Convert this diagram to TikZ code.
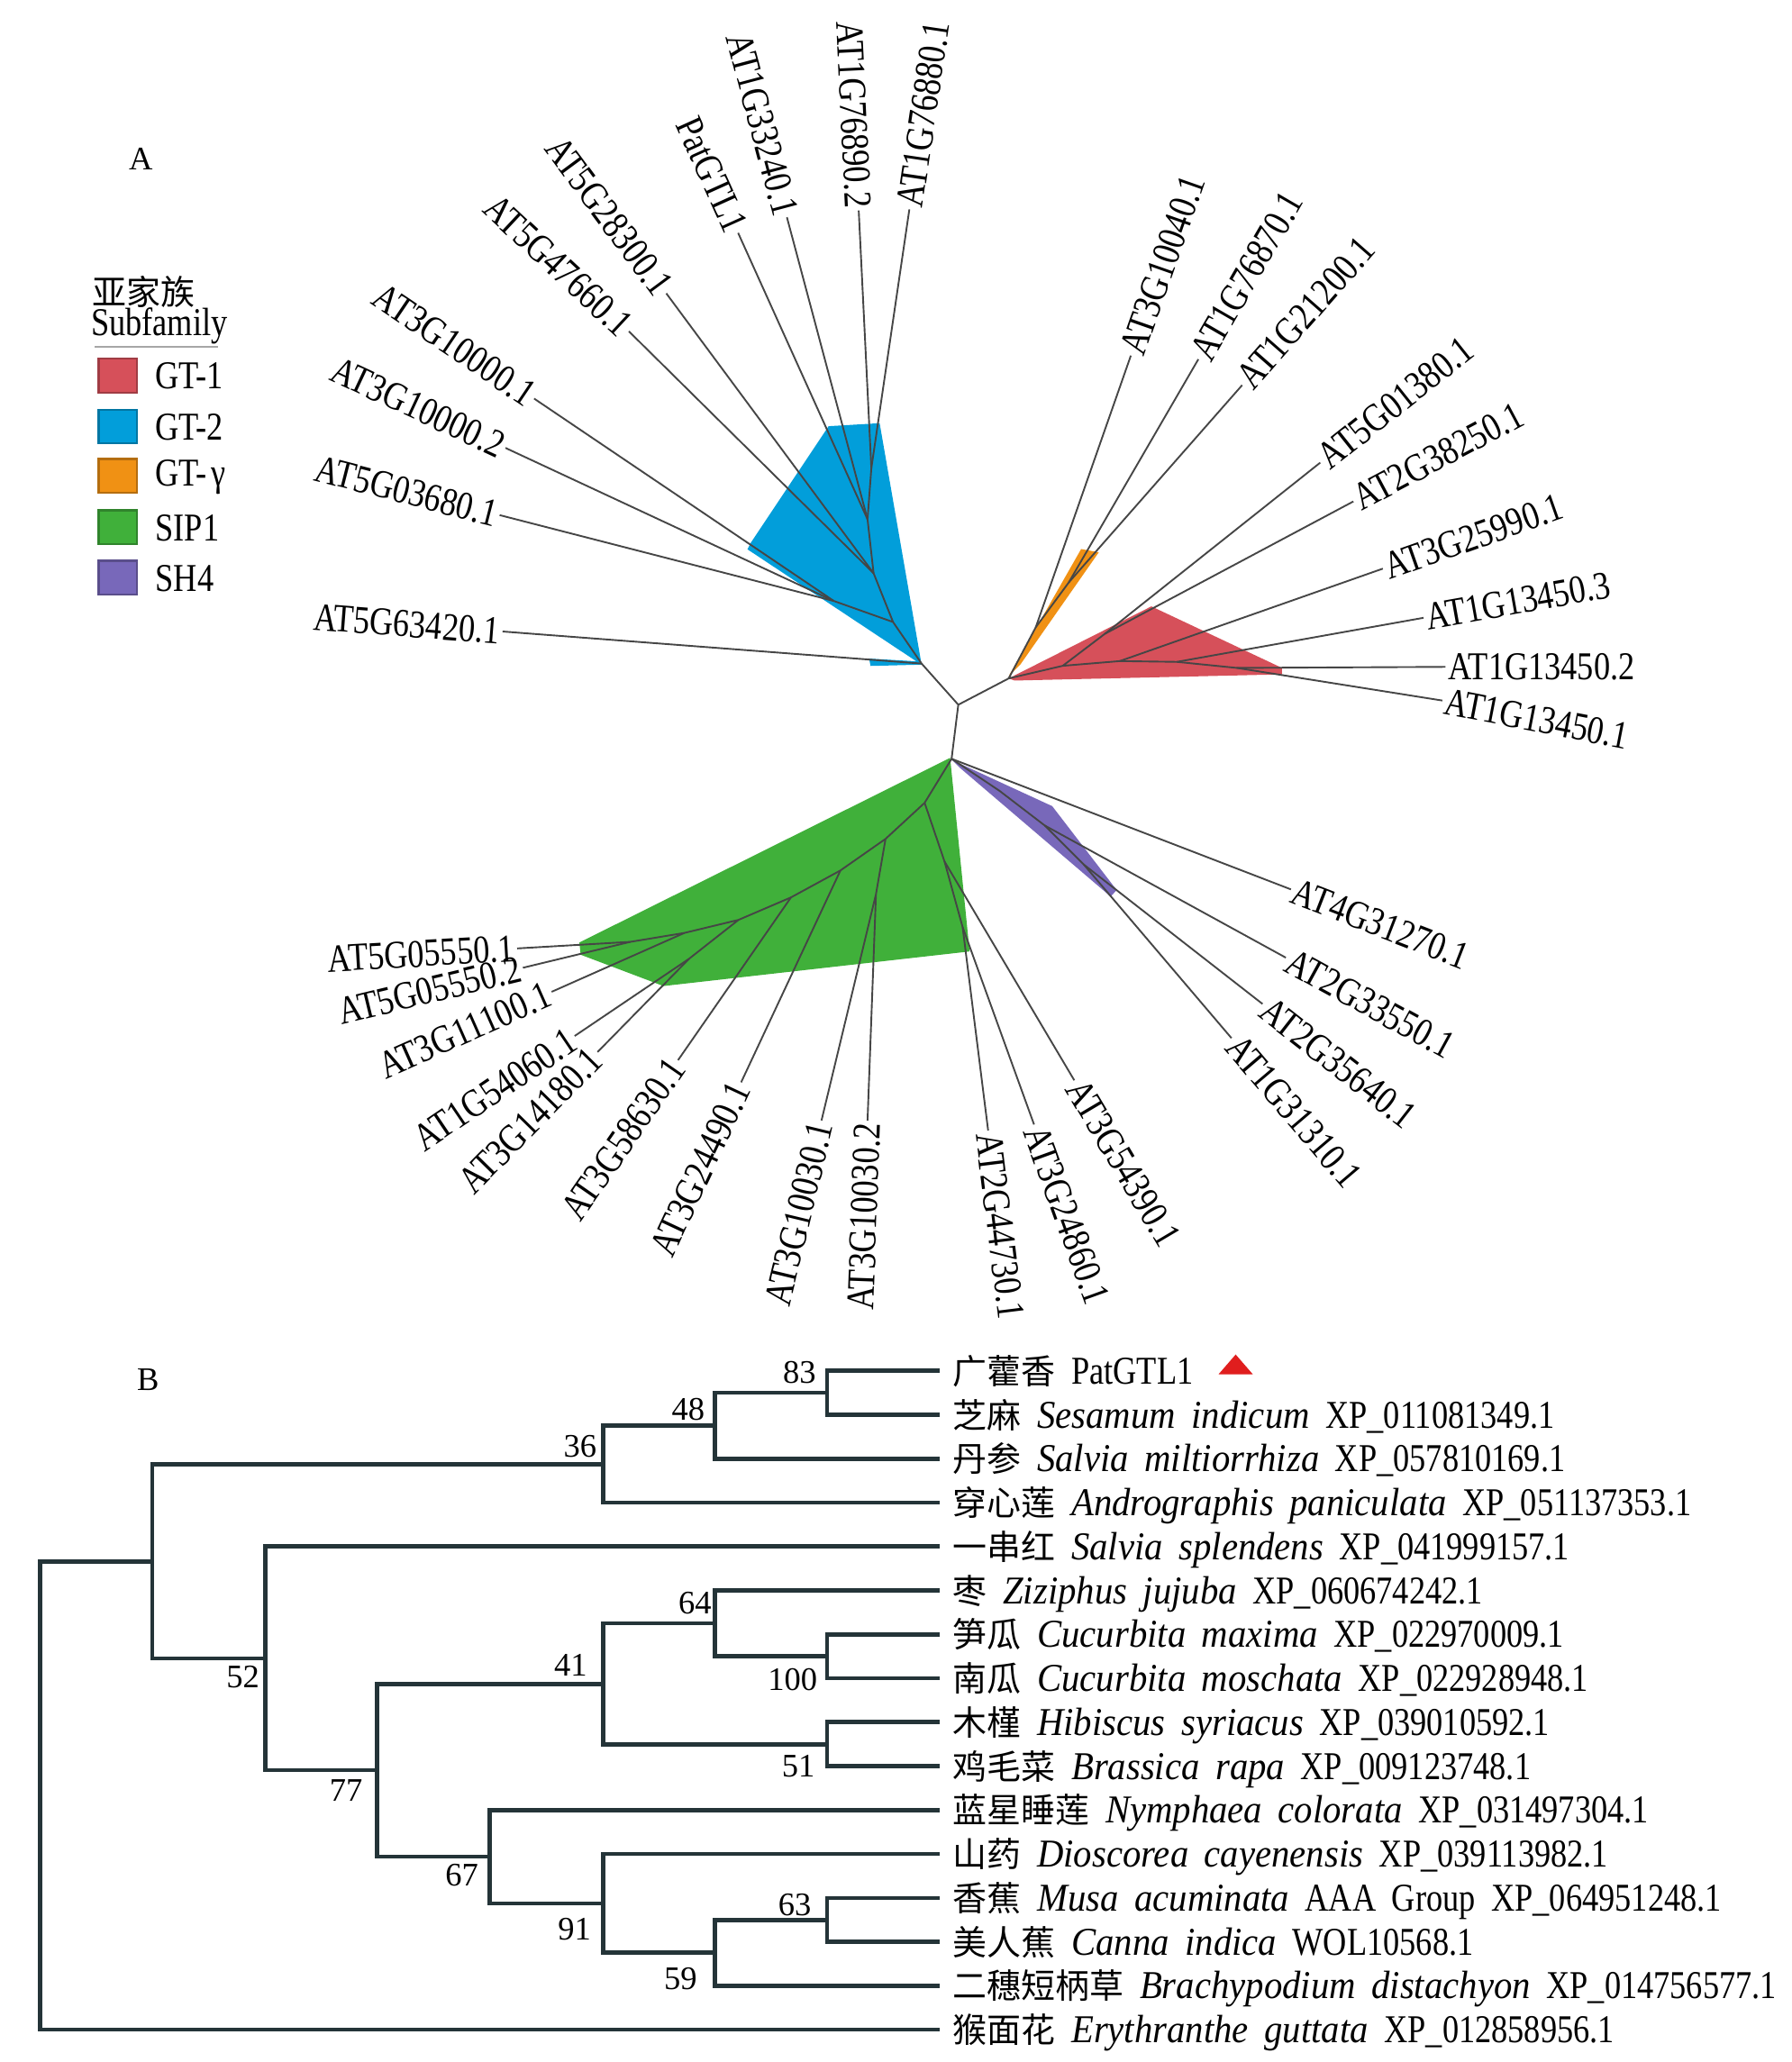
\documentclass[tikz,border=0pt]{standalone}
\usepackage{fontspec}
\setmainfont{Liberation Serif}[FakeStretch=0.83]
\newfontfamily\itf{Liberation Serif}[FakeStretch=0.93]
\newfontfamily\numf{Liberation Serif}
\newfontfamily\cjk{Noto Sans CJK SC}
\definecolor{cRed}{RGB}{214,80,90}
\definecolor{cBlue}{RGB}{2,158,218}
\definecolor{cOrange}{RGB}{240,145,20}
\definecolor{cGreen}{RGB}{64,176,58}
\definecolor{cPurple}{RGB}{120,104,186}
\definecolor{lineA}{RGB}{70,70,70}
\definecolor{lineB}{RGB}{36,52,56}
\definecolor{triRed}{RGB}{224,30,30}
\newcommand\lbl{\fontsize{30}{32}\selectfont}
\newcommand\gap{\hspace{12pt}}
\newcommand\cn[1]{{\cjk\fontsize{26}{28}\selectfont #1}}
\newcommand\spn[1]{{\itf\itshape #1}}
\tikzset{
  br/.style={draw=lineA, line width=1.3pt},
  labL/.style={anchor=east, inner sep=2pt, font=\lbl},
  labR/.style={anchor=west, inner sep=2pt, font=\lbl},
  tb/.style={draw=lineB, line width=3.2pt, line cap=rect, line join=miter},
  bs/.style={inner sep=0pt, font=\numf\fontsize{25}{26}\selectfont},
  leafB/.style={anchor=base west, inner sep=0pt, font=\lbl},
  sw/.style={line width=1.5pt},
  panel/.style={inner sep=0pt, font=\numf\fontsize{25}{26}\selectfont},
}
\begin{document}
\begin{tikzpicture}[x=1pt,y=-1pt]
\useasboundingbox (0,0) rectangle (1362,1568);
\fill[white] (0,0) rectangle (1362,1568);

% ---------------- Panel A ----------------
\node[panel] (lblA) at (107,121) {A};

% legend
\node[anchor=west, inner sep=0pt] (legcn) at (70,222) {\cn{亚家族}};
\node[anchor=west, inner sep=0pt, font=\lbl] (legen) at (69,248) {Subfamily};
\draw[gray!70, line width=1.5pt] (72,263.5) -- (166,263.5);
\draw[sw, fill=cRed, draw=cRed!75!black] (75,272.5) rectangle (104,298.4);
\draw[sw, fill=cBlue, draw=cBlue!75!black] (75,311.6) rectangle (104,337.2);
\draw[sw, fill=cOrange, draw=cOrange!75!black] (75,349) rectangle (104,374.7);
\draw[sw, fill=cGreen, draw=cGreen!75!black] (75,388) rectangle (104,413.8);
\draw[sw, fill=cPurple, draw=cPurple!75!black] (75,426.4) rectangle (104,452.3);
\node[anchor=west, inner sep=0pt, font=\lbl] (lg1) at (118,286) {GT-1};
\node[anchor=west, inner sep=0pt, font=\lbl] (lg2) at (118,325) {GT-2};
\node[anchor=west, inner sep=0pt, font=\lbl] (lg3) at (118,363) {GT-{\hspace{3pt}}γ};
\node[anchor=west, inner sep=0pt, font=\lbl] (lg4) at (118,401.5) {SIP1};
\node[anchor=west, inner sep=0pt, font=\lbl] (lg5) at (118,440) {SH4};

% clade fills
\fill[cBlue] (700.7,505.5) -- (668.8,321.8) -- (630,324.1) -- (570.6,413.1) -- (568.3,417.7) -- cycle;
\fill[cBlue] (660.8,500.8) -- (661.9,506.4) -- (700.7,505.4) -- (699,503) -- cycle;
\fill[cRed] (766.9,515.9) -- (875.4,461.1) -- (974.7,507.9) -- (974.7,512.8) -- (771.5,517.5) -- cycle;
\fill[cOrange] (767,514) -- (822,417.5) -- (835.4,420) -- (776,505) -- cycle;
\fill[cGreen] (722.4,576.3) -- (737.2,723.5) -- (504.4,749.8) -- (441.5,726) -- (440.5,716.7) -- cycle;
\fill[cPurple] (724,578) -- (800,613) -- (849,676.8) -- (844.5,681.8) -- (730,584) -- cycle;

% internal nodes
\coordinate (J) at (728.6,535.9);
\coordinate (b2) at (700.7,504.6);
\coordinate (B1) at (766.9,515.9);
\coordinate (L) at (723.5,577);
\coordinate (n1) at (679,473);
\coordinate (n2) at (634,457);
\coordinate (n3) at (664.2,435.9);
\coordinate (n4) at (659.6,394.9);
\coordinate (n6) at (662.5,356);
\coordinate (g0) at (787.5,477);
\coordinate (g1) at (812.6,442.9);
\coordinate (r1) at (808,506.3);
\coordinate (rb) at (840,482);
\coordinate (r2) at (851.4,502.7);
\coordinate (r3) at (894.8,503.3);
\coordinate (r4) at (940.4,507.9);
\coordinate (p1) at (760,601.4);
\coordinate (p2) at (794.3,627.7);
\coordinate (p3) at (824,657.4);
\coordinate (s2) at (703,610.5);
\coordinate (s3) at (673.3,637.9);
\coordinate (s4) at (639,661.9);
\coordinate (s5) at (601.4,682.4);
\coordinate (s6) at (561.5,699.5);
\coordinate (s7) at (520.4,709.4);
\coordinate (s8) at (479.3,716.2);
\coordinate (s3b) at (666,680);
\coordinate (s6b) at (524,729);
\coordinate (sA) at (718.1,655);
\coordinate (sB) at (731.9,705);

\draw[br] (J) -- (b2) (J) -- (B1) (J) -- (L)
  (b2) -- (n1) (n1) -- (n2) (n1) -- (n3) (n3) -- (n4) (n4) -- (n6)
  (B1) -- (g0) (g0) -- (g1)
  (B1) -- (r1) (r1) -- (rb) (r1) -- (r2) (r2) -- (r3) (r3) -- (r4)
  (L) -- (p1) (p1) -- (p2) (p2) -- (p3)
  (L) -- (s2) (s2) -- (s3) (s3) -- (s4) (s4) -- (s5) (s5) -- (s6) (s6) -- (s7) (s7) -- (s8)
  (s3) -- (s3b) (s6) -- (s6b) (s2) -- (sA) (sA) -- (sB);

% leaves: name / x / y / parent / rotation / side / text
\foreach \n/\x/\y/\p/\r/\s/\t in {
  e1/382.1/480.2/b2/-4.4/L/AT5G63420.1,
  e2/379.9/391.7/n2/-14.4/L/AT5G03680.1,
  e3/384.3/340.6/n2/-25.0/L/AT3G10000.2,
  e4/406.1/303.1/n2/-34.0/L/AT3G10000.1,
  e5/478.2/252/n3/-43.0/L/AT5G47660.1,
  e6/506.6/223.1/n3/-53.5/L/AT5G28300.1,
  e7/561.2/177.1/n4/-65.7/L/PatGTL1,
  e8/598.3/165.2/n4/-75.1/L/AT1G33240.1,
  e9/652.9/160.1/n6/-87.2/L/AT1G76890.2,
  e10/691.4/159.2/n6/81.6/R/AT1G76880.1,
  f1/859.8/270.4/g0/70.7/R/AT3G10040.1,
  f2/911.1/273.2/g1/59.9/R/AT1G76870.1,
  f3/944.4/292.9/g1/48.7/R/AT1G21200.1,
  f4/1003.8/351.8/rb/38.5/R/AT5G01380.1,
  f5/1029/381.3/rb/28.0/R/AT2G38250.1,
  f6/1051.4/432.4/r2/19.4/R/AT3G25990.1,
  f7/1082.3/469.8/r3/10.1/R/AT1G13450.3,
  f8/1099/507.1/r4/0/R/AT1G13450.2,
  f9/1096.6/532.7/r4/-11/R/AT1G13450.1,
  h1/981.5/676.3/L/-21.2/R/AT4G31270.1,
  h2/977.6/728.2/p2/-28.7/R/AT2G33550.1,
  h3/959.9/763.4/p3/-38.0/R/AT2G35640.1,
  h4/936.3/789.4/p3/-49.6/R/AT1G31310.1,
  k1/816.8/821.5/sA/-59.3/R/AT3G54390.1,
  k2/786.2/855.1/sB/-70.1/R/AT3G24860.1,
  k3/751.3/859.7/sB/-82.9/R/AT2G44730.1,
  k4/659.6/852/s3b/87.9/L/AT3G10030.2,
  k5/624.6/852/s3b/76.5/L/AT3G10030.1,
  k6/563.5/823/s4/64.9/L/AT3G24490.1,
  k7/515.5/806.2/s5/55.2/L/AT3G58630.1,
  k8/454.3/800/s6b/45.5/L/AT3G14180.1,
  k9/436.9/787.8/s6b/34.0/L/AT1G54060.1,
  k10/419.4/754.2/s7/23.9/L/AT3G11100.1,
  k11/397.6/735.9/s8/13.6/L/AT5G05550.2,
  k12/393.2/721.2/s8/3.3/L/AT5G05550.1}
{
  \coordinate (\n) at (\x,\y);
  \draw[br] (\p) -- (\n);
  \node[lab\s, rotate=\r] (t\n) at (\n) {\t};
}

% ---------------- Panel B ----------------
\node[panel] (lblB) at (112.5,1049) {B};

\foreach \i in {0,...,15} {
  \coordinate (l\i) at (712.8,1042.4+33.4*\i);
}
\coordinate (n83) at (628.8,1059.1);
\coordinate (n48) at (543.7,1084.15);
\coordinate (n36) at (458.5,1113.4);
\coordinate (n100) at (628.8,1259.5);
\coordinate (n64) at (543.7,1234.45);
\coordinate (n51) at (628.8,1326.3);
\coordinate (n41) at (458.5,1280.4);
\coordinate (n63) at (628.8,1459.9);
\coordinate (n59) at (543.7,1484.95);
\coordinate (n91) at (458.5,1447.4);
\coordinate (n67) at (372.5,1411.9);
\coordinate (n77) at (286.9,1346.15);
\coordinate (n52) at (201.8,1261.1);
\coordinate (nN) at (115.7,1187.25);
\coordinate (nR) at (30.6,1365.3);

\draw[tb] (n83) |- (l0) (n83) |- (l1)
  (n48) |- (n83) (n48) |- (l2)
  (n36) |- (n48) (n36) |- (l3)
  (n100) |- (l6) (n100) |- (l7)
  (n64) |- (l5) (n64) |- (n100)
  (n51) |- (l8) (n51) |- (l9)
  (n41) |- (n64) (n41) |- (n51)
  (n63) |- (l12) (n63) |- (l13)
  (n59) |- (n63) (n59) |- (l14)
  (n91) |- (l11) (n91) |- (n59)
  (n67) |- (l10) (n67) |- (n91)
  (n77) |- (n41) (n77) |- (n67)
  (n52) |- (l4) (n52) |- (n77)
  (nN) |- (n36) (nN) |- (n52)
  (nR) |- (nN) (nR) |- (l15);

% bootstrap values
\node[bs] (v83) at (607.9,1043.8) {83};
\node[bs] (v48) at (523.2,1072) {48};
\node[bs] (v36) at (441.1,1100) {36};
\node[bs] (v52) at (184.7,1275.2) {52};
\node[bs] (v64) at (528.4,1219.2) {64};
\node[bs] (v41) at (433.9,1266) {41};
\node[bs] (v100) at (602.7,1277.5) {100};
\node[bs] (v51) at (607,1342.9) {51};
\node[bs] (v77) at (263.1,1361.8) {77};
\node[bs] (v67) at (351.1,1425.9) {67};
\node[bs] (v91) at (436.7,1466.9) {91};
\node[bs] (v63) at (604.2,1448.5) {63};
\node[bs] (v59) at (517.5,1504.5) {59};

% leaf labels
\node[leafB] (sp0) at (724.4,1052.4) {\cn{广藿香}\gap PatGTL1};
\node[leafB] (sp1) at (724.4,1085.8) {\cn{芝麻}\gap\spn{Sesamum\gap indicum}\gap XP\_011081349.1};
\node[leafB] (sp2) at (724.4,1119.2) {\cn{丹参}\gap\spn{Salvia\gap miltiorrhiza}\gap XP\_057810169.1};
\node[leafB] (sp3) at (724.4,1152.6) {\cn{穿心莲}\gap\spn{Andrographis\gap paniculata}\gap XP\_051137353.1};
\node[leafB] (sp4) at (724.4,1186.0) {\cn{一串红}\gap\spn{Salvia\gap splendens}\gap XP\_041999157.1};
\node[leafB] (sp5) at (724.4,1219.4) {\cn{枣}\gap\spn{Ziziphus\gap jujuba}\gap XP\_060674242.1};
\node[leafB] (sp6) at (724.4,1252.8) {\cn{笋瓜}\gap\spn{Cucurbita\gap maxima}\gap XP\_022970009.1};
\node[leafB] (sp7) at (724.4,1286.2) {\cn{南瓜}\gap\spn{Cucurbita\gap moschata}\gap XP\_022928948.1};
\node[leafB] (sp8) at (724.4,1319.6) {\cn{木槿}\gap\spn{Hibiscus\gap syriacus}\gap XP\_039010592.1};
\node[leafB] (sp9) at (724.4,1353.0) {\cn{鸡毛菜}\gap\spn{Brassica\gap rapa}\gap XP\_009123748.1};
\node[leafB] (sp10) at (724.4,1386.4) {\cn{蓝星睡莲}\gap\spn{Nymphaea\gap colorata}\gap XP\_031497304.1};
\node[leafB] (sp11) at (724.4,1419.8) {\cn{山药}\gap\spn{Dioscorea\gap cayenensis}\gap XP\_039113982.1};
\node[leafB] (sp12) at (724.4,1453.2) {\cn{香蕉}\gap\spn{Musa\gap acuminata}\gap AAA\gap Group\gap XP\_064951248.1};
\node[leafB] (sp13) at (724.4,1486.6) {\cn{美人蕉}\gap\spn{Canna\gap indica}\gap WOL10568.1};
\node[leafB] (sp14) at (724.4,1520.0) {\cn{二穗短柄草}\gap\spn{Brachypodium\gap distachyon}\gap XP\_014756577.1};
\node[leafB] (sp15) at (724.4,1553.4) {\cn{猴面花}\gap\spn{Erythranthe\gap guttata}\gap XP\_012858956.1};

% red marker
\fill[triRed] (939.5,1030) -- (952.5,1045) -- (926.5,1045) -- cycle;
\end{tikzpicture}
\end{document}
